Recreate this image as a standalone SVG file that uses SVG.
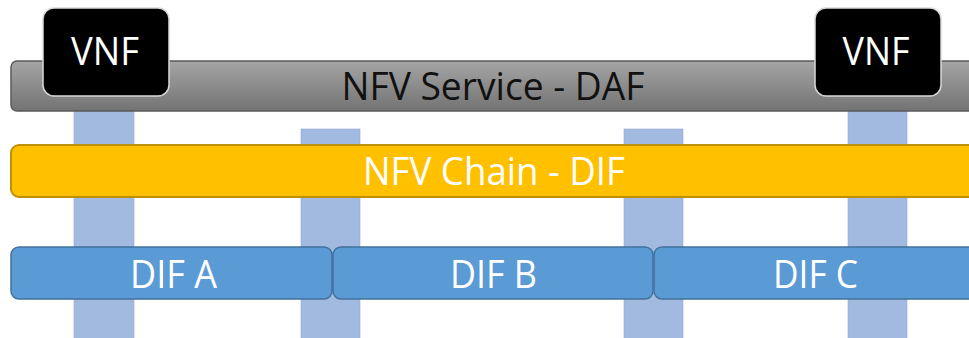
<svg xmlns="http://www.w3.org/2000/svg" width="969" height="338" viewBox="0 0 969 338">
  <defs>
    <linearGradient id="greyFill" x1="0" y1="0" x2="0" y2="1">
      <stop offset="0" stop-color="#A5A5A5"/>
      <stop offset="1" stop-color="#737373"/>
    </linearGradient>
    <style>
      .col { fill: #A2B9E0; stroke: #94ABD3; stroke-width: 0.6; }
      .lbl { font-family: "Open Sans", "DejaVu Sans", sans-serif; font-size: 38px; text-anchor: middle; }
      .white { fill: #FFFFFF; }
      .dark { fill: #111111; }
      .dif { fill: #5B9BD5; stroke: #41719C; stroke-width: 1.5; }
      .vnf { fill: #000000; stroke: #D9D9D9; stroke-width: 1.5; }
    </style>
  </defs>

  <!-- vertical flow columns (connectors) -->
  <g id="connectors">
    <rect class="col" x="74" y="100" width="60" height="240"/>
    <rect class="col" x="301" y="129" width="59" height="211"/>
    <rect class="col" x="624" y="129" width="59" height="211"/>
    <rect class="col" x="848" y="100" width="59" height="240"/>
  </g>

  <g id="nfv-service-daf">
    <rect x="11" y="61" width="966" height="50" rx="6" fill="url(#greyFill)" stroke="#5A5A5A" stroke-width="1.5"/>
    <text class="lbl dark" x="493" y="100" textLength="303" lengthAdjust="spacingAndGlyphs">NFV Service - DAF</text>
  </g>

  <g id="vnf-left">
    <rect class="vnf" x="43" y="8" width="126" height="88" rx="11"/>
    <text class="lbl white" x="105" y="65" textLength="68" lengthAdjust="spacingAndGlyphs">VNF</text>
  </g>

  <g id="vnf-right">
    <rect class="vnf" x="815" y="8" width="126" height="88" rx="11"/>
    <text class="lbl white" x="876" y="65" textLength="67" lengthAdjust="spacingAndGlyphs">VNF</text>
  </g>

  <g id="nfv-chain-dif">
    <rect x="11" y="145" width="966" height="52" rx="8" fill="#FFC000" stroke="#BF9000" stroke-width="2"/>
    <text class="lbl white" x="494" y="185" textLength="262" lengthAdjust="spacingAndGlyphs">NFV Chain - DIF</text>
  </g>

  <g id="dif-a">
    <rect class="dif" x="11" y="247" width="321" height="52" rx="8"/>
    <text class="lbl white" x="173.5" y="288" textLength="87" lengthAdjust="spacingAndGlyphs">DIF A</text>
  </g>

  <g id="dif-b">
    <rect class="dif" x="333" y="247" width="320" height="52" rx="8"/>
    <text class="lbl white" x="493.5" y="288" textLength="87" lengthAdjust="spacingAndGlyphs">DIF B</text>
  </g>

  <g id="dif-c">
    <rect class="dif" x="654" y="247" width="322" height="52" rx="8"/>
    <text class="lbl white" x="815.5" y="288" textLength="85" lengthAdjust="spacingAndGlyphs">DIF C</text>
  </g>
</svg>
